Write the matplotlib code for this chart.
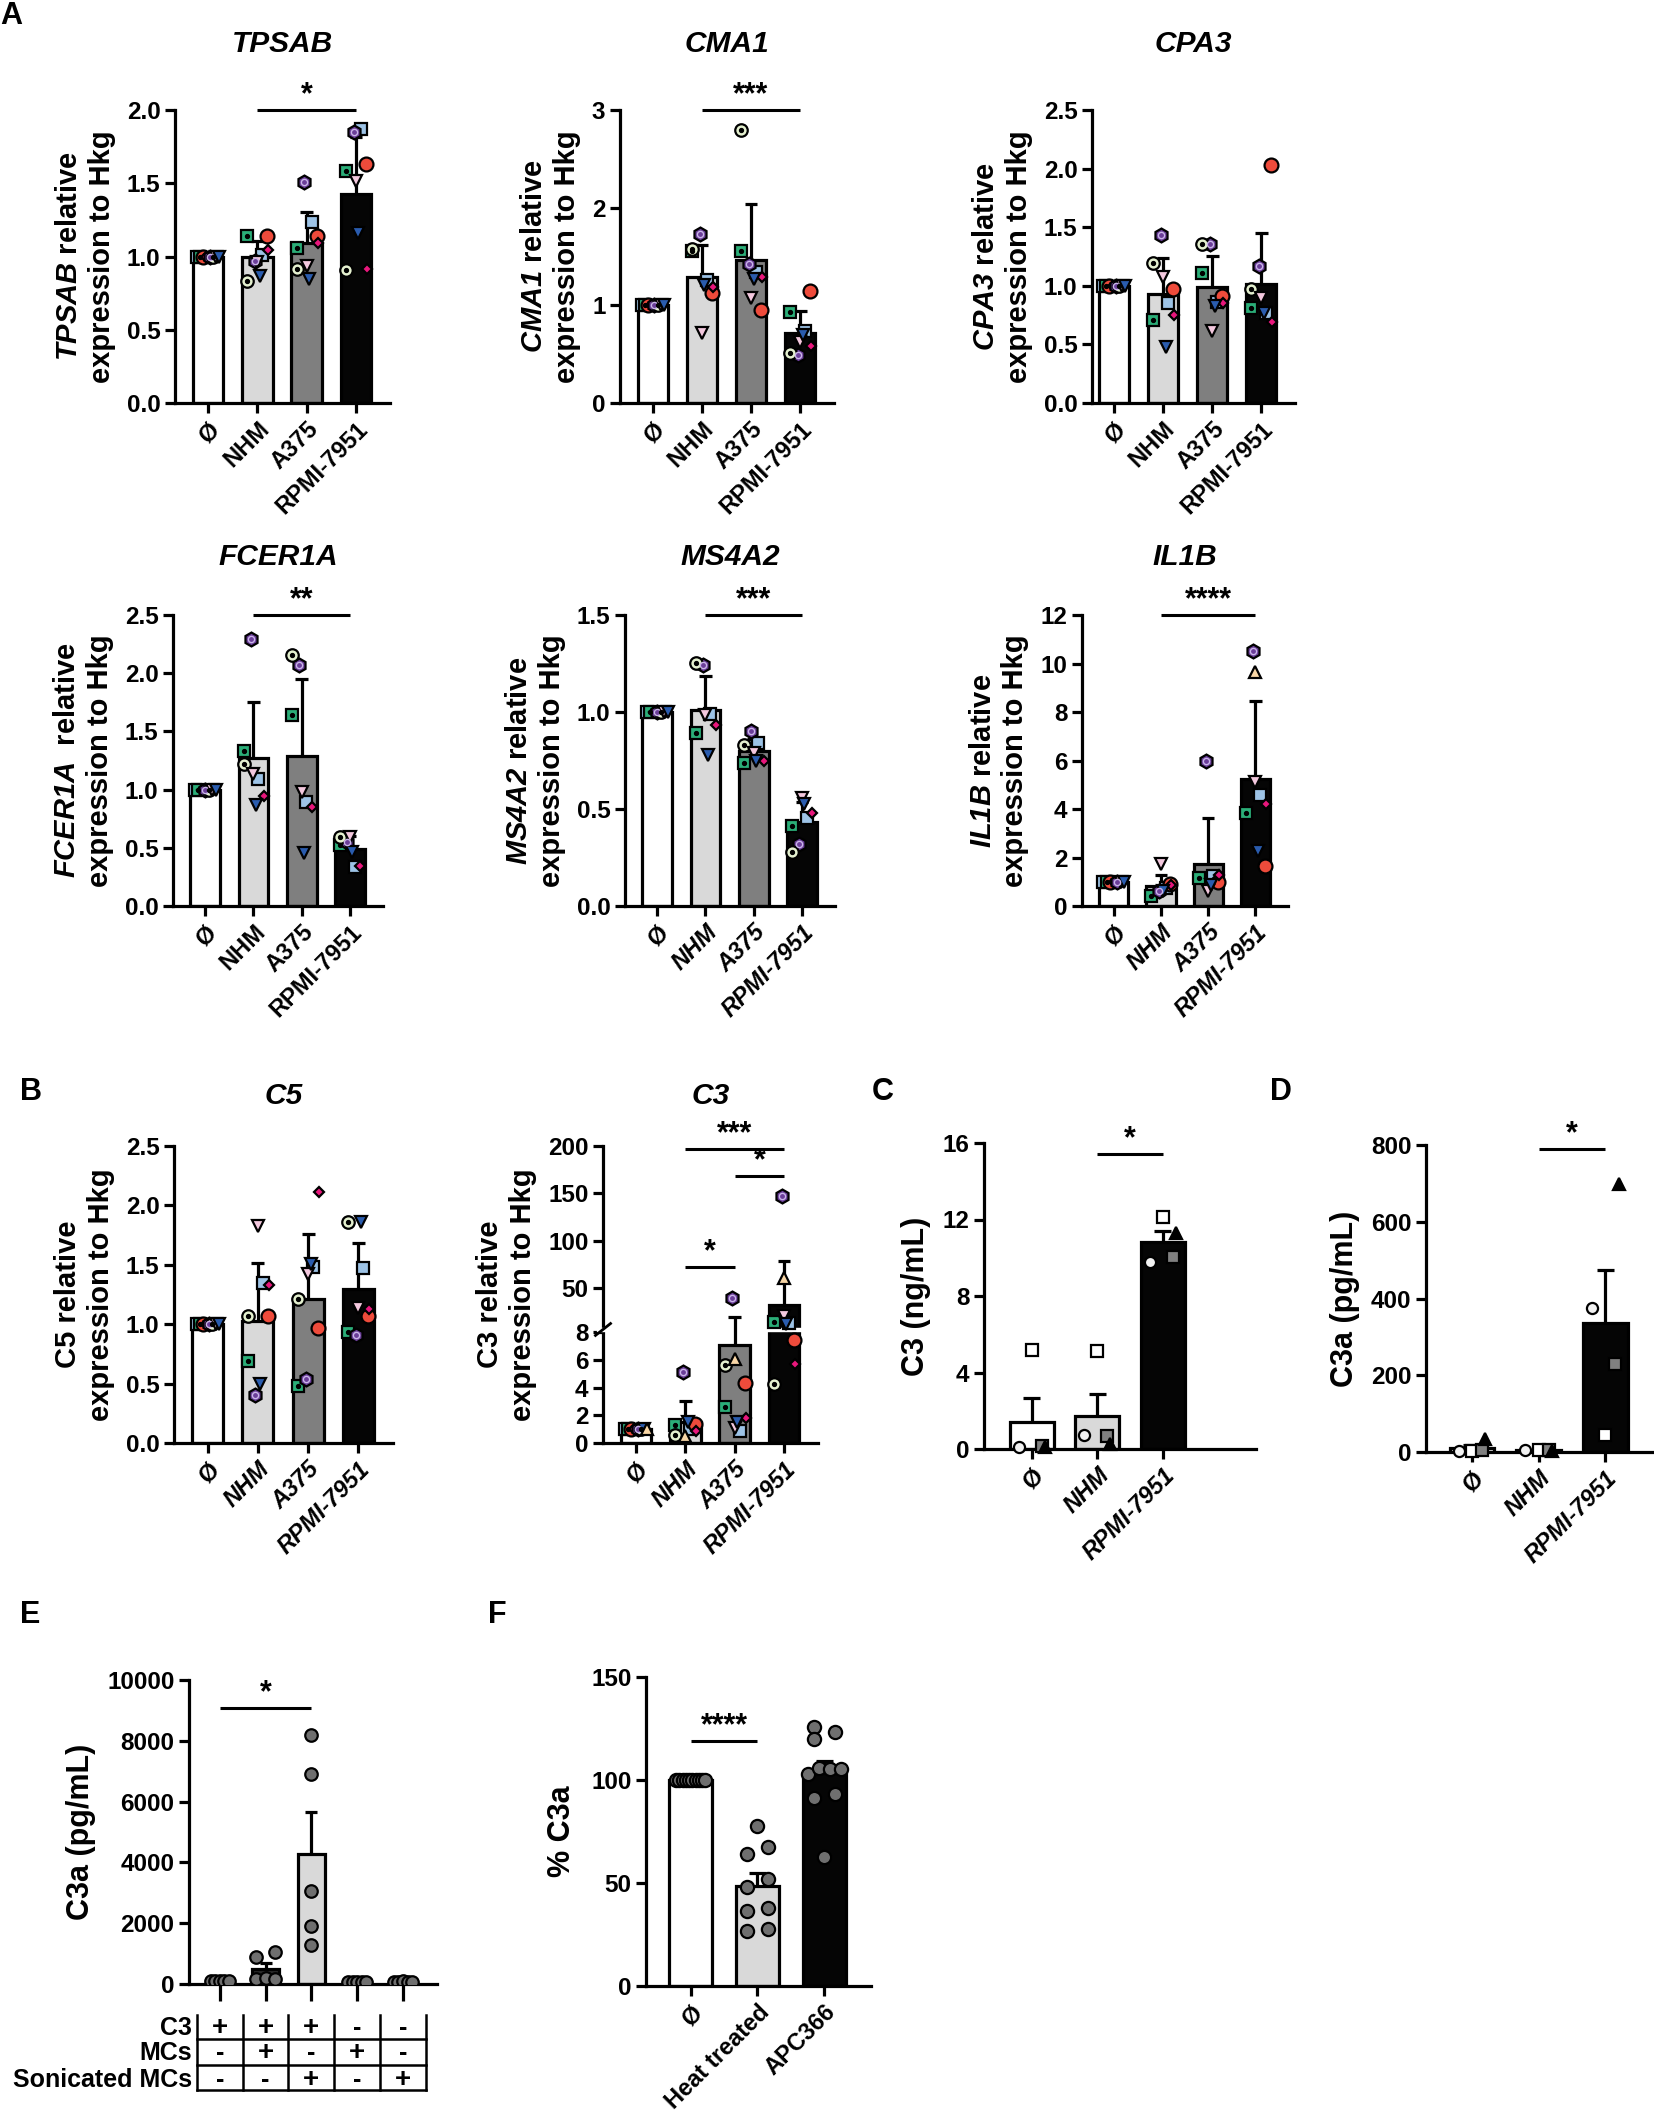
import numpy as np
import matplotlib
matplotlib.use("Agg")
import matplotlib.pyplot as plt
import matplotlib.transforms as mtransforms
from matplotlib.patches import Rectangle

nan = np.nan

# ---------------------------------------------------------------- data
cell_groups = ["Ø", "NHM", "A375", "RPMI-7951"]
donors = ["blue_sq", "green_sq", "red_circ", "pink_dia", "purple_hex",
          "pale_circ", "pink_tri", "blue_tri", "peach_tri"]

# rows: Ø, NHM, A375, RPMI-7951 ; columns follow `donors`
tpsab = [[1, 1, 1, 1, 1, 1, 1, 1, nan],
         [1.013, 1.138, 1.138, 1.045, 0.967, 0.832, 0.962, 0.869, nan],
         [1.236, 1.058, 1.138, 1.089, 1.510, 0.918, 0.935, 0.845, nan],
         [1.868, 1.586, 1.633, 0.913, 1.853, 0.906, 1.518, 1.163, nan]]
cma1 = [[1, 1, 1, 1, 1, 1, 1, 1, nan],
        [1.256, 1.561, 1.131, 1.183, 1.726, 1.579, 0.716, 1.205, nan],
        [1.340, 1.553, 0.955, 1.285, 1.421, 2.798, 1.072, 1.267, nan],
        [0.734, 0.936, 1.146, 0.588, 0.496, 0.514, 0.624, 0.698, nan]]
cpa3 = [[1, 1, 1, 1, 1, 1, 1, 1, nan],
        [0.857, 0.710, 0.973, 0.753, 1.432, 1.193, 1.077, 0.474, nan],
        [0.866, 1.111, 0.909, 0.851, 1.353, 1.359, 0.612, 0.826, nan],
        [0.765, 0.811, 2.029, 0.695, 1.169, 0.973, 0.894, 0.771, nan]]
fcer1a = [[1, 1, nan, 1, 1, 1, 1, 1, nan],
          [1.091, 1.333, nan, 0.944, 2.298, 1.219, 1.134, 0.867, nan],
          [0.892, 1.639, nan, 0.852, 2.068, 2.154, 0.980, 0.453, nan],
          [0.331, 0.521, nan, 0.346, 0.551, 0.597, 0.597, 0.460, nan]]
ms4a2 = [[1, 1, nan, 1, 1, 1, 1, 1, nan],
         [0.990, 0.890, nan, 0.933, 1.241, 1.252, 0.986, 0.776, nan],
         [0.842, 0.736, nan, 0.745, 0.901, 0.830, 0.791, 0.745, nan],
         [0.454, 0.413, nan, 0.479, 0.322, 0.276, 0.558, 0.526, nan]]
il1b = [[1, 1, 1, 1, 1, nan, 1, 1, nan],
        [0.75, 0.40, 0.897, 0.853, 0.60, nan, 1.735, 0.60, nan],
        [1.22, 1.147, 1.00, 1.294, 6.00, nan, 0.60, 0.853, nan],
        [4.56, 3.82, 1.66, 4.21, 10.51, nan, 5.12, 2.25, 9.63]]
c5 = [[1, 1, 1, 1, 1, 1, 1, 1, nan],
      [1.350, 0.688, 1.069, 1.334, 0.406, 1.069, 1.828, 0.500, nan],
      [1.478, 0.484, 0.969, 2.116, 0.541, 1.209, 1.422, 1.506, nan],
      [1.469, 0.931, 1.069, 1.125, 0.913, 1.859, 1.140, 1.859, nan]]
c3_mrna = [[1, 1, 1, 1, 1, 1, nan, 1, 1],
           [1.0, 1.3, 1.4, 0.9, 5.1, 0.6, nan, 1.5, 0.5],
           [0.86, 2.6, 4.3, 1.8, 39.8, 5.64, 1.07, 1.53, 6.04],
           [13.5, 14.3, 7.46, 5.69, 147.0, 4.24, 20.2, 12.4, 60.6]]

# panels C and D (protein, 4 donors)
elisa_groups = ["Ø", "NHM", "RPMI-7951"]
elisa_donors = ["w_sq", "w_circ", "g_sq", "b_tri"]
c3_protein = [[5.2, 0.10, 0.15, 0.10],
              [5.15, 0.75, 0.70, 0.25],
              [12.15, 9.80, 10.05, 11.30]]
c3a_protein = [[2, 3, 5, 35],
               [5, 4, 5, 2],
               [45, 376, 229, 698]]

# panel E
e_values = [[90, 110, 100, 95, 105],
            [900, 1060, 150, 200, 160],
            [8200, 6900, 3060, 1900, 1280],
            [70, 80, 60, 75, 65],
            [80, 70, 90, 60, 75]]
e_c3 = ["+", "+", "+", "-", "-"]
e_mcs = ["-", "+", "-", "+", "-"]
e_sonic = ["-", "-", "+", "-", "+"]

# panel F
f_groups = ["Ø", "Heat treated", "APC366"]
f_values = [[100] * 10,
            [77.5, 67.7, 64.2, 51.9, 48.0, 37.8, 36.5, 27.6, 26.9],
            [125.5, 123.5, 119.8, 102.8, 106.0, 105.2, 105.2, 91.2, 93.1, 62.7]]

# ---------------------------------------------------------------- styles
plt.rcParams["font.family"] = ["Liberation Sans", "DejaVu Sans"]
plt.rcParams["font.weight"] = "bold"
plt.rcParams["mathtext.fontset"] = "custom"
plt.rcParams["mathtext.it"] = "Liberation Sans:italic:bold"
plt.rcParams["mathtext.rm"] = "Liberation Sans:italic:bold"
plt.rcParams["mathtext.bf"] = "Liberation Sans:italic:bold"

W, H = 1654, 2117
LW = 2.3
TICK_FS = 17.5
XLAB_FS = 17
YLAB_FS = 21
bar_colors = ["#ffffff", "#d9d9d9", "#7f7f7f", "#050505"]

donor_style = {
    "blue_sq": dict(marker="s", fc="#9DC3E6", ms=9),
    "green_sq": dict(marker="s", fc="#2BAE78", ms=8, dot=True),
    "red_circ": dict(marker="o", fc="#EE4B3B", ms=10),
    "pink_dia": dict(marker="D", fc="#E8177C", ms=5.5),
    "purple_hex": dict(marker="h", fc="#6B3E99", ms=10, ring=True),
    "pale_circ": dict(marker="o", fc="#E4F0CF", ms=9, dot=True),
    "pink_tri": dict(marker="v", fc="#F3C8DE", ms=9),
    "blue_tri": dict(marker="v", fc="#2A5CAE", ms=9),
    "peach_tri": dict(marker="^", fc="#F8D6A6", ms=9),
    "w_sq": dict(marker="s", fc="#ffffff", ms=9),
    "w_circ": dict(marker="o", fc="#f2f2f2", ms=8),
    "g_sq": dict(marker="s", fc="#808080", ms=8),
    "b_tri": dict(marker="^", fc="#000000", ms=9),
}
donor_offset = {"blue_sq": 0.1, "green_sq": -0.2, "red_circ": 0.2,
                "pink_dia": 0.22, "purple_hex": -0.05, "pale_circ": -0.2,
                "pink_tri": 0.0, "blue_tri": 0.05, "peach_tri": 0.0,
                "w_sq": 0.0, "w_circ": -0.2, "g_sq": 0.15, "b_tri": 0.2}

fig = plt.figure(figsize=(W / 100, H / 100), dpi=100)


def add_ax(box):
    l, t, r, b = box
    ax = fig.add_axes([l / W, 1 - b / H, (r - l) / W, (b - t) / H])
    for s in ("top", "right"):
        ax.spines[s].set_visible(False)
    for s in ("left", "bottom"):
        ax.spines[s].set_linewidth(LW)
    ax.tick_params(width=LW, length=7, labelsize=TICK_FS)
    ax.set_facecolor("none")
    return ax


def draw_point(ax, x, y, name):
    st = donor_style[name]
    ax.plot(x, y, st["marker"], ms=st["ms"], mfc=st["fc"], mec="black",
            mew=1.6, zorder=4, clip_on=False)
    if st.get("dot"):
        ax.plot(x, y, "o", ms=2.8, color="black", zorder=5, clip_on=False)
    if st.get("ring"):
        ax.plot(x, y, "o", ms=4.5, mfc=st["fc"], mec="#C9B4E8", mew=1,
                zorder=5, clip_on=False)


def draw_bars(ax, means, errs, colors, width):
    x = np.arange(len(means))
    ax.bar(x, means, width=width, color=colors, edgecolor="black",
           linewidth=LW, zorder=2)
    tops = np.array(means) + np.array(errs)
    ax.vlines(x, means, tops, color="black", lw=LW, zorder=3)
    ax.hlines(tops, x - 0.13, x + 0.13, color="black", lw=LW, zorder=3)


def add_sig(ax, x1, x2, y, stars):
    ax.plot([x1, x2], [y, y], color="black", lw=2.2, clip_on=False,
            solid_capstyle="butt")
    ax.annotate(stars, xy=((x1 + x2) / 2, y), xytext=(0, 0),
                textcoords="offset points", ha="center", va="bottom",
                fontsize=22, fontweight="bold", annotation_clip=False)


def set_xlabels(ax, labels, italic=False):
    ax.set_xticks(np.arange(len(labels)))
    ax.set_xticklabels(labels, rotation=45, ha="right",
                       rotation_mode="anchor", fontsize=XLAB_FS,
                       fontweight="bold")
    if italic:
        for t in ax.get_xticklabels():
            if t.get_text() != "Ø":
                t.set_fontstyle("italic")


def gene_panel(box, title, ylabel, rows, ylim, yticks, ylabels, xlim,
               title_pad, italic_x=False, sigs=(), scale=None):
    ax = add_ax(box)
    if scale is not None:
        ax.set_yscale("function", functions=scale)
    vals = [np.array(r, float) for r in rows]
    means = [np.nanmean(v) for v in vals]
    errs = [np.nanstd(v, ddof=1) if np.nanstd(v) > 0 else 0 for v in vals]
    draw_bars(ax, means, errs, bar_colors, 0.62)
    for i, v in enumerate(vals):
        present = [j for j in range(len(donors)) if not np.isnan(v[j])]
        if errs[i] == 0:
            offs = np.linspace(-0.22, 0.22, len(present))
        else:
            offs = [donor_offset[donors[j]] for j in present]
        for o, j in zip(offs, present):
            draw_point(ax, i + o, v[j], donors[j])
    ax.set_xlim(*xlim)
    ax.set_ylim(*ylim)
    ax.set_yticks(yticks)
    ax.set_yticklabels(ylabels, fontweight="bold")
    set_xlabels(ax, cell_groups, italic=italic_x)
    ax.set_ylabel(ylabel, fontsize=YLAB_FS, fontweight="bold", labelpad=8,
                  linespacing=1.2)
    ax.set_title(title, fontsize=21.5, fontweight="bold", fontstyle="italic",
                 pad=title_pad)
    for s in sigs:
        add_sig(ax, *s)
    return ax


def fmt(ticks, d=1):
    return [f"{t:.{d}f}" for t in ticks]


XL4 = (-0.67, 3.69)

# ---------------------------------------------------------------- row 1
t = np.arange(0, 2.01, 0.5)
gene_panel((175, 110, 390, 403), "TPSAB",
           r"$\mathit{TPSAB}$ relative" + "\nexpression to Hkg",
           tpsab, (0, 2), t, fmt(t), XL4, 42, sigs=[(1, 3, 2.0, "*")])
t = [0, 1, 2, 3]
gene_panel((620, 110, 834, 403), "CMA1",
           r"$\mathit{CMA1}$ relative" + "\nexpression to Hkg",
           cma1, (0, 3), t, fmt(t, 0), XL4, 42, sigs=[(1, 3, 3.0, "***")])
t = np.arange(0, 2.51, 0.5)
gene_panel((1092, 110, 1295, 403), "CPA3",
           r"$\mathit{CPA3}$ relative" + "\nexpression to Hkg",
           cpa3, (0, 2.5), t, fmt(t), (-0.45, 3.69), 42)

# ---------------------------------------------------------------- row 2
gene_panel((173, 615, 383, 906), "FCER1A",
           r"$\mathit{FCER1A}$  relative" + "\nexpression to Hkg",
           fcer1a, (0, 2.5), t, fmt(t), XL4, 36, sigs=[(1, 3, 2.5, "**")])
t = np.arange(0, 1.51, 0.5)
gene_panel((625, 615, 835, 906), "MS4A2",
           r"$\mathit{MS4A2}$ relative" + "\nexpression to Hkg",
           ms4a2, (0, 1.5), t, fmt(t), XL4, 36, italic_x=True,
           sigs=[(1, 3, 1.5, "***")])
t = np.arange(0, 12.1, 2)
gene_panel((1082, 615, 1288, 906), "IL1B",
           r"$\mathit{IL1B}$ relative" + "\nexpression to Hkg",
           il1b, (0, 12), t, fmt(t, 0), XL4, 36, italic_x=True,
           sigs=[(1, 3, 12.0, "****")])

# ---------------------------------------------------------------- row 3 (B)
t = np.arange(0, 2.51, 0.5)
gene_panel((174, 1146, 393, 1443), "C5", "C5 relative\nexpression to Hkg",
           c5, (0, 2.5), t, fmt(t), XL4, 30, italic_x=True)

BRK, GAP, K = 8.0, 0.32, 0.0684


def c3_fwd(v):
    v = np.asarray(v, float)
    return np.where(v <= BRK, v, BRK + GAP + (v - BRK) * K)


def c3_inv(u):
    u = np.asarray(u, float)
    return np.where(u <= BRK, u,
                    np.where(u < BRK + GAP, BRK, BRK + (u - BRK - GAP) / K))


t = [0, 2, 4, 6, 8, 50, 100, 150, 200]
ax3 = gene_panel((603, 1146, 818, 1443), "C3",
                 "C3 relative\nexpression to Hkg", c3_mrna, (0, 200), t,
                 fmt(t, 0), XL4, 30, italic_x=True,
                 sigs=[(1, 2, 72, "*"), (1, 3, 197, "***"), (2, 3, 168, "*")],
                 scale=(c3_fwd, c3_inv))
top_u = float(c3_fwd(200))
f0, f1 = (BRK + 0.08) / top_u, (BRK + GAP) / top_u
ax3.add_patch(Rectangle((-0.03, f0), 1.06, f1 - f0, transform=ax3.transAxes,
                        color="white", zorder=2.6, clip_on=False))
fm = (f0 + f1) / 2
ax3.plot([-0.035, 0.035], [fm - 0.02, fm + 0.02], transform=ax3.transAxes,
         color="black", lw=2, zorder=2.7, clip_on=False)


# ---------------------------------------------------------------- C and D
def elisa_panel(box, ylabel, rows, ylim, yticks, xlim, sig):
    ax = add_ax(box)
    vals = [np.array(r, float) for r in rows]
    means = [v.mean() for v in vals]
    errs = [v.std(ddof=1) / np.sqrt(len(v)) for v in vals]
    draw_bars(ax, means, errs, [bar_colors[0], bar_colors[1], bar_colors[3]],
              0.67)
    for i, v in enumerate(vals):
        for j, name in enumerate(elisa_donors):
            draw_point(ax, i + donor_offset[name], v[j], name)
    ax.set_xlim(*xlim)
    ax.set_ylim(*ylim)
    ax.set_yticks(yticks)
    set_xlabels(ax, elisa_groups, italic=True)
    ax.set_ylabel(ylabel, fontsize=22, fontweight="bold", labelpad=8)
    add_sig(ax, *sig)
    return ax


elisa_panel((984, 1143, 1256, 1449), "C3 (ng/mL)", c3_protein, (0, 16),
            [0, 4, 8, 12, 16], (-0.73, 3.42), (1, 2, 15.4, "*"))
elisa_panel((1426, 1145, 1652, 1452), "C3a (pg/mL)", c3a_protein, (0, 800),
            [0, 200, 400, 600, 800], (-0.69, 2.7), (1, 2, 789, "*"))

# ---------------------------------------------------------------- E
axE = add_ax((189, 1680, 437, 1984))
axE.tick_params(axis="x", length=12)
ev = [np.array(v, float) for v in e_values]
draw_bars(axE, [v.mean() for v in ev],
          [v.std(ddof=1) / np.sqrt(len(v)) for v in ev],
          ["#ffffff", "#2a2a2a", "#d9d9d9", "#ffffff", "#ffffff"], 0.6)
e_offsets = [[-0.2, -0.1, 0, 0.1, 0.2],
             [-0.2, 0.2, -0.2, 0.0, 0.2],
             [0, 0, 0, 0, 0],
             [-0.2, -0.1, 0, 0.1, 0.2],
             [-0.2, -0.1, 0, 0.1, 0.2]]
for i, v in enumerate(ev):
    axE.plot(i + np.array(e_offsets[i]), v, "o", ms=9, mfc="#6f6f6f",
             mec="black", mew=1.6, zorder=4)
axE.set_xlim(-0.67, 4.74)
axE.set_ylim(0, 10000)
axE.set_yticks(np.arange(0, 10001, 2000))
axE.set_xticks(np.arange(5))
axE.set_xticklabels([])
axE.set_ylabel("C3a (pg/mL)", fontsize=22, fontweight="bold", labelpad=8)
add_sig(axE, 0, 2, 9080, "*")

trE = mtransforms.blended_transform_factory(axE.transData, axE.transAxes)
hE = 304.0


def efrac(py):
    return (1984 - py) / hE


for xb in np.arange(-0.5, 5, 1.0):
    axE.plot([xb, xb], [efrac(2015), efrac(2090)], transform=trE,
             color="black", lw=1.8, clip_on=False)
for py in (2039, 2065, 2090):
    axE.plot([-0.5, 4.5], [efrac(py), efrac(py)], transform=trE,
             color="black", lw=1.8, clip_on=False)
for label, row, py in (("C3", e_c3, 2028), ("MCs", e_mcs, 2053),
                       ("Sonicated MCs", e_sonic, 2080)):
    axE.text(-0.6, efrac(py), label, transform=trE, ha="right", va="center",
             fontsize=18, fontweight="bold")
    for i, s in enumerate(row):
        axE.text(i, efrac(py), s, transform=trE, ha="center", va="center",
                 fontsize=20 if s == "+" else 18, fontweight="bold")

# ---------------------------------------------------------------- F
axF = add_ax((646, 1677, 871, 1986))
fv = [np.array(v, float) for v in f_values]
draw_bars(axF, [v.mean() for v in fv],
          [v.std(ddof=1) / np.sqrt(len(v)) for v in fv],
          ["#ffffff", "#d9d9d9", "#050505"], 0.64)
f_offsets = [list(np.linspace(-0.22, 0.22, 10)),
             [0, 0.16, -0.16, 0.16, -0.16, 0.16, -0.16, 0.16, -0.16],
             [-0.15, 0.16, -0.15, -0.25, -0.08, 0.08, 0.25, -0.15, 0.16, 0.0]]
for i, v in enumerate(fv):
    axF.plot(i + np.array(f_offsets[i]), v, "o", ms=9.5, mfc="#6f6f6f",
             mec="black", mew=1.6, zorder=4)
axF.set_xlim(-0.67, 2.7)
axF.set_ylim(0, 150)
axF.set_yticks([0, 50, 100, 150])
set_xlabels(axF, f_groups)
axF.set_ylabel("% C3a", fontsize=22, fontweight="bold", labelpad=10)
add_sig(axF, 0, 1, 119, "****")

# ---------------------------------------------------------------- letters
for letter, px, py in (("A", 11, 16), ("B", 31, 1092), ("C", 883, 1092),
                       ("D", 1281, 1092), ("E", 30, 1615), ("F", 497, 1615)):
    fig.text(px / W, 1 - py / H, letter, fontsize=22, fontweight="bold",
             ha="center", va="center")

fig.savefig("out.png", dpi=100)
